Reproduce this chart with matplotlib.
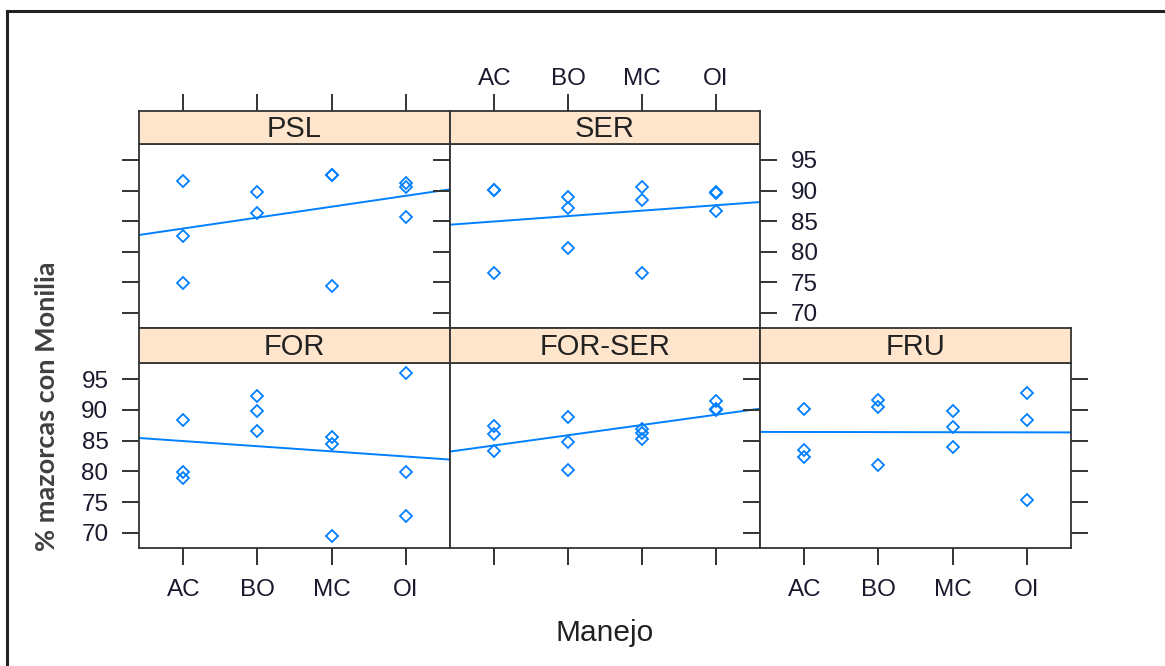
import numpy as np
import matplotlib
matplotlib.use("Agg")
import matplotlib.pyplot as plt
from matplotlib.lines import Line2D

plt.rcParams['font.family'] = ['Liberation Sans', 'DejaVu Sans']

manejo = ['AC', 'BO', 'MC', 'OI']
y_ticks = [70, 75, 80, 85, 90, 95]

# % mazorcas con Monilia per panel, one list per Manejo level
psl = [[91.5, 82.5, 74.9], [89.8, 86.4], [92.55, 92.6, 74.4], [91.3, 90.5, 85.6]]
ser = [[90.1, 90.15, 76.6], [89.0, 87.2, 80.6], [90.5, 88.4, 76.6], [89.6, 89.8, 86.7]]
fore = [[88.3, 79.9, 79.0], [92.3, 89.8, 86.6], [85.6, 84.4, 69.5], [95.9, 79.9, 72.8]]
for_ser = [[87.3, 86.0, 83.3], [88.9, 84.7, 80.2], [86.9, 86.2, 85.2], [91.5, 90.2, 90.0]]
fru = [[90.2, 83.5, 82.3], [91.6, 90.4, 81.0], [89.8, 87.2, 83.9], [92.8, 88.3, 75.4]]

panels = [('PSL', psl), ('SER', ser), ('FOR', fore), ('FOR-SER', for_ser), ('FRU', fru)]

W, H = 1165, 666
fig = plt.figure(figsize=(W / 100, H / 100), dpi=100)

blue = '#0080ff'
strip_col = '#ffe5cc'
frame_col = '#333333'
cols = [139, 450, 760, 1071]
rows = [(144, 328, 111), (363, 548, 328)]   # panel top, panel bottom, strip top
xlim = (0.4, 4.6)
ylim = (67.55, 97.6)

def fx(px):
    return px / W

def fy(py):
    return 1 - py / H

# (row, col) positions for each panel
pos = [(0, 0), (0, 1), (1, 0), (1, 1), (1, 2)]

for (name, groups), (r, c) in zip(panels, pos):
    ptop, pbot, stop = rows[r]
    x0, x1 = cols[c], cols[c + 1]
    ax = fig.add_axes([fx(x0), fy(pbot), fx(x1) - fx(x0), fy(ptop) - fy(pbot)])
    sax = fig.add_axes([fx(x0), fy(ptop), fx(x1) - fx(x0), fy(stop) - fy(ptop)], sharex=ax)
    sax.set_facecolor(strip_col)
    sax.set_yticks([])
    sax.text(0.5, 0.45, name, transform=sax.transAxes, ha='center', va='center',
             fontsize=21, color='#222222')

    xs, ys = [], []
    for i, g in enumerate(groups):
        xs += [i + 1] * len(g)
        ys += g
    ax.plot(xs, ys, linestyle='none', marker='D', markersize=6.5, markerfacecolor='none',
            markeredgecolor=blue, markeredgewidth=1.3)
    k, b = np.polyfit(xs, ys, 1)
    xl = np.array(xlim)
    ax.plot(xl, k * xl + b, color=blue, lw=1.4)

    ax.set_xlim(*xlim)
    ax.set_ylim(*ylim)
    ax.set_xticks(range(1, 5))
    ax.set_yticks(y_ticks)
    for a in (ax, sax):
        for sp in a.spines.values():
            sp.set_color(frame_col)
            sp.set_linewidth(1.3)
    ax.tick_params(length=0, labelbottom=False, labelleft=False)
    sax.tick_params(length=0, labelbottom=False, labelleft=False)

    tk = dict(direction='out', length=12, width=1.4, color=frame_col,
              labelsize=17.5, labelcolor='#1a1a2e')
    # bottom ticks
    if r == 1:
        ax.tick_params(axis='x', bottom=True, labelbottom=(c != 1), pad=10, **tk)
        ax.set_xticklabels(manejo)
    # top ticks on strip
    if r == 0:
        sax.tick_params(axis='x', top=True, labeltop=(c == 1), bottom=False, pad=3, **tk)
        sax.set_xticks(range(1, 5))
        sax.set_xticklabels(manejo)
    # left ticks
    if c == 0:
        ax.tick_params(axis='y', left=True, labelleft=(r == 1), pad=10, **tk)
    # right ticks
    if (r == 0 and c == 1) or (r == 1 and c == 2):
        ax.tick_params(axis='y', right=True, labelright=(r == 0), pad=10, **tk)

fig.text(fx(605), fy(633), 'Manejo', ha='center', va='center', fontsize=21.5, color='#222222')
fig.text(fx(47), fy(406), '% mazorcas con Monilia', ha='center', va='center', rotation=90,
         fontsize=19.5, fontweight='bold', color='#404040', family=['Lato', 'DejaVu Sans'])

# outer frame of the screenshot
fig.add_artist(Line2D([fx(7), fx(7)], [fy(11), 0], color='#222222', lw=2.2))
fig.add_artist(Line2D([fx(7), 1], [fy(11), fy(11)], color='#222222', lw=2.2))

fig.savefig('out.png', dpi=100)
